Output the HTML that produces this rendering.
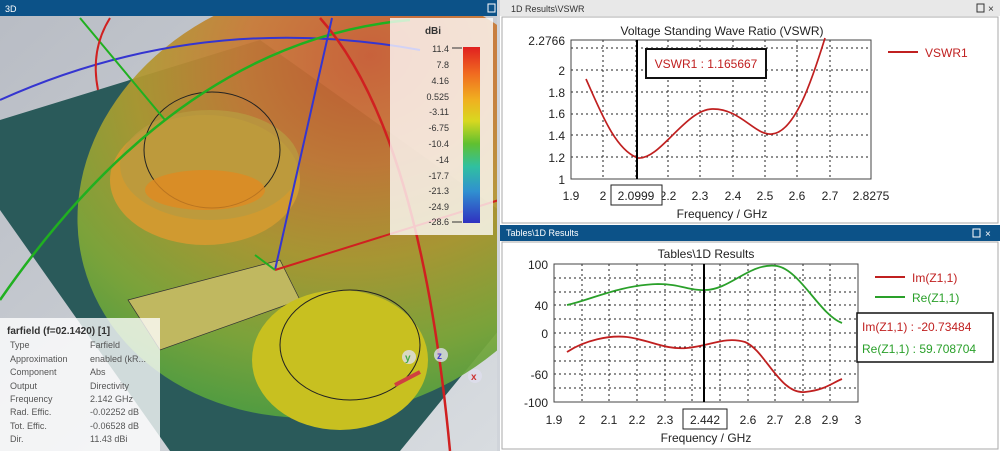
<!DOCTYPE html>
<html><head><meta charset="utf-8"><style>
html,body{margin:0;padding:0;background:#fff;width:1000px;height:451px;overflow:hidden}
svg{display:block;position:absolute;left:0;top:0;font-family:"Liberation Sans","DejaVu Sans",sans-serif}
</style></head><body>
<svg width="1000" height="451" viewBox="0 0 1000 451" xmlns="http://www.w3.org/2000/svg">
<defs>
<linearGradient id="cb" x1="0" y1="0" x2="0" y2="1">
<stop offset="0" stop-color="#e02020"/><stop offset="0.15" stop-color="#f06a20"/><stop offset="0.3" stop-color="#f0b020"/><stop offset="0.42" stop-color="#d8d820"/><stop offset="0.55" stop-color="#60c030"/><stop offset="0.68" stop-color="#30c0a0"/><stop offset="0.82" stop-color="#3090d0"/><stop offset="1" stop-color="#3030c0"/>
</linearGradient>
<radialGradient id="lobe" cx="0.65" cy="0.2" r="0.85">
<stop offset="0" stop-color="#c85a30"/><stop offset="0.3" stop-color="#c87a35"/><stop offset="0.55" stop-color="#b09a30"/><stop offset="0.8" stop-color="#80a838"/><stop offset="1" stop-color="#50a040"/>
</radialGradient>
<linearGradient id="bg" x1="0" y1="0" x2="1" y2="1"><stop offset="0" stop-color="#b8bcc4"/><stop offset="1" stop-color="#d8dce0"/></linearGradient>
</defs>
<rect x="0" y="0" width="499" height="451" fill="url(#bg)"/>
<polygon points="0,120 260,40 499,210 499,330 400,451 170,451 0,210" fill="#2a5a5a"/>
<ellipse cx="330" cy="200" rx="255" ry="215" fill="url(#lobe)" opacity="0.93" transform="rotate(-15 330 200)"/>
<ellipse cx="205" cy="180" rx="95" ry="65" fill="#d09a30"/>
<ellipse cx="210" cy="165" rx="90" ry="55" fill="#b89a40" opacity="0.8"/>
<ellipse cx="212" cy="150" rx="68" ry="58" fill="none" stroke="#222" stroke-width="1"/>
<ellipse cx="205" cy="190" rx="60" ry="20" fill="#e08a20" opacity="0.8"/>
<polygon points="128,300 280,260 300,300 160,350" fill="#c0b860" stroke="#333" stroke-width="0.7"/>
<ellipse cx="340" cy="360" rx="88" ry="70" fill="#c8c020"/>
<ellipse cx="350" cy="345" rx="70" ry="55" fill="none" stroke="#222" stroke-width="1"/>
<path d="M0,100 Q200,10 420,50" fill="none" stroke="#3535d0" stroke-width="2"/>
<path d="M0,300 Q180,40 410,20" fill="none" stroke="#20b020" stroke-width="2.5"/>
<line x1="80" y1="18" x2="165" y2="120" stroke="#20b020" stroke-width="2"/>
<path d="M110,18 Q90,50 98,90" fill="none" stroke="#d02020" stroke-width="2"/>
<path d="M320,18 Q420,130 450,451" fill="none" stroke="#d02020" stroke-width="2.5"/>
<line x1="332" y1="18" x2="275" y2="270" stroke="#3535d0" stroke-width="2"/>
<line x1="275" y1="270" x2="499" y2="200" stroke="#d02020" stroke-width="2"/>
<line x1="275" y1="270" x2="255" y2="255" stroke="#20b020" stroke-width="2"/>
<line x1="395" y1="385" x2="420" y2="372" stroke="#d04040" stroke-width="4"/>
<circle cx="409" cy="357" r="7" fill="#dde" opacity="0.8"/><text x="405" y="361" font-size="10" fill="#4a4" font-weight="bold">y</text>
<circle cx="441" cy="355" r="7" fill="#dde" opacity="0.8"/><text x="437" y="359" font-size="10" fill="#44c" font-weight="bold">z</text>
<circle cx="475" cy="376" r="7" fill="#dde" opacity="0.8"/><text x="471" y="380" font-size="10" fill="#c33" font-weight="bold">x</text>
<rect x="390" y="18" width="103" height="217" fill="#fff" opacity="0.78"/>
<text x="433" y="34" font-size="10" font-weight="bold" fill="#333" text-anchor="middle">dBi</text>
<rect x="463" y="47" width="17" height="176" fill="url(#cb)"/>
<g font-size="9" fill="#333" text-anchor="end">
<text x="449" y="52">11.4</text><text x="449" y="68">7.8</text><text x="449" y="84">4.16</text><text x="449" y="100">0.525</text><text x="449" y="115">-3.11</text><text x="449" y="131">-6.75</text><text x="449" y="147">-10.4</text><text x="449" y="163">-14</text><text x="449" y="179">-17.7</text><text x="449" y="194">-21.3</text><text x="449" y="210">-24.9</text><text x="449" y="225">-28.6</text>
</g>
<g stroke="#333" stroke-width="1"><line x1="452" y1="48" x2="462" y2="48"/><line x1="452" y1="222" x2="462" y2="222"/></g>
<polygon points="0,318 160,318 160,451 0,451" fill="#fff" opacity="0.78"/>
<text x="7" y="334" font-size="10" font-weight="bold" fill="#333">farfield (f=02.1420) [1]</text>
<g font-size="9" fill="#555">
<text x="10" y="348">Type</text><text x="90" y="348">Farfield</text>
<text x="10" y="362">Approximation</text><text x="90" y="362">enabled (kR...</text>
<text x="10" y="375">Component</text><text x="90" y="375">Abs</text>
<text x="10" y="389">Output</text><text x="90" y="389">Directivity</text>
<text x="10" y="402">Frequency</text><text x="90" y="402">2.142 GHz</text>
<text x="10" y="415">Rad. Effic.</text><text x="90" y="415">-0.02252 dB</text>
<text x="10" y="429">Tot. Effic.</text><text x="90" y="429">-0.06528 dB</text>
<text x="10" y="442">Dir.</text><text x="90" y="442">11.43 dBi</text>
</g>
<rect x="0" y="0" width="499" height="16" fill="#0c5288"/>
<text x="5" y="12" font-size="9" fill="#fff">3D</text>
<rect x="488" y="4" width="7" height="8" fill="none" stroke="#fff"/>
<rect x="497" y="0" width="3" height="451" fill="#d0d4da"/>

<rect x="500" y="0" width="500" height="225" fill="#fff"/>
<rect x="500" y="0" width="500" height="16" fill="#e8e8e8"/>
<text x="511" y="12" font-size="9" fill="#333">1D Results\VSWR</text>
<rect x="977" y="4" width="7" height="8" fill="none" stroke="#333"/><text x="988" y="12" font-size="10" fill="#333">×</text>
<rect x="502" y="17" width="496" height="206" fill="none" stroke="#aaa"/>
<text x="722" y="35" font-size="12" fill="#222" text-anchor="middle">Voltage Standing Wave Ratio (VSWR)</text>
<g stroke="#222" stroke-width="1" stroke-dasharray="2,3">
<line x1="603" y1="40" x2="603" y2="179"/><line x1="636" y1="40" x2="636" y2="179"/><line x1="668" y1="40" x2="668" y2="179"/><line x1="700" y1="40" x2="700" y2="179"/><line x1="733" y1="40" x2="733" y2="179"/><line x1="765" y1="40" x2="765" y2="179"/><line x1="797" y1="40" x2="797" y2="179"/><line x1="830" y1="40" x2="830" y2="179"/>
<line x1="571" y1="157" x2="871" y2="157"/><line x1="571" y1="135" x2="871" y2="135"/><line x1="571" y1="114" x2="871" y2="114"/><line x1="571" y1="92" x2="871" y2="92"/><line x1="571" y1="70" x2="871" y2="70"/><line x1="571" y1="48" x2="871" y2="48"/>
</g>
<rect x="571" y="40" width="300" height="139" fill="none" stroke="#444"/>
<path d="M586,79 C600,110 615,150 638,158 C660,160 685,110 712,109 C740,108 755,136 772,134 C795,132 812,80 825,38" fill="none" stroke="#c02020" stroke-width="1.7"/>
<line x1="637" y1="40" x2="637" y2="179" stroke="#000" stroke-width="2"/>
<g font-size="12" fill="#222" text-anchor="end">
<text x="565" y="45">2.2766</text><text x="565" y="75">2</text><text x="565" y="97">1.8</text><text x="565" y="118">1.6</text><text x="565" y="140">1.4</text><text x="565" y="162">1.2</text><text x="565" y="184">1</text>
</g>
<g font-size="12" fill="#222" text-anchor="middle">
<text x="571" y="200">1.9</text><text x="603" y="200">2</text><text x="668" y="200">2.2</text><text x="700" y="200">2.3</text><text x="733" y="200">2.4</text><text x="765" y="200">2.5</text><text x="797" y="200">2.6</text><text x="830" y="200">2.7</text><text x="871" y="200">2.8275</text>
</g>
<rect x="611" y="185" width="51" height="20" fill="#fff" stroke="#222"/>
<text x="636" y="200" font-size="12" fill="#222" text-anchor="middle">2.0999</text>
<text x="722" y="218" font-size="12" fill="#222" text-anchor="middle">Frequency / GHz</text>
<rect x="646" y="49" width="120" height="29" fill="#fff" stroke="#111" stroke-width="2"/>
<text x="706" y="68" font-size="12" fill="#c02020" text-anchor="middle">VSWR1 : 1.165667</text>
<line x1="888" y1="52" x2="918" y2="52" stroke="#c02020" stroke-width="2"/>
<text x="925" y="57" font-size="12" fill="#c02020">VSWR1</text>

<rect x="500" y="225" width="500" height="226" fill="#fff"/>
<rect x="500" y="225" width="500" height="16" fill="#0c5288"/>
<text x="506" y="236" font-size="9" fill="#fff">Tables\1D Results</text>
<rect x="973" y="229" width="7" height="8" fill="none" stroke="#fff"/><text x="985" y="237" font-size="10" fill="#fff">×</text>
<rect x="502" y="242" width="496" height="207" fill="none" stroke="#aaa"/>
<text x="706" y="258" font-size="12" fill="#222" text-anchor="middle">Tables\1D Results</text>
<g stroke="#222" stroke-width="1" stroke-dasharray="2,3">
<line x1="582" y1="264" x2="582" y2="402"/><line x1="609" y1="264" x2="609" y2="402"/><line x1="637" y1="264" x2="637" y2="402"/><line x1="665" y1="264" x2="665" y2="402"/><line x1="692" y1="264" x2="692" y2="402"/><line x1="720" y1="264" x2="720" y2="402"/><line x1="748" y1="264" x2="748" y2="402"/><line x1="775" y1="264" x2="775" y2="402"/><line x1="803" y1="264" x2="803" y2="402"/><line x1="830" y1="264" x2="830" y2="402"/>
<line x1="554" y1="278" x2="858" y2="278"/><line x1="554" y1="292" x2="858" y2="292"/><line x1="554" y1="305" x2="858" y2="305"/><line x1="554" y1="319" x2="858" y2="319"/><line x1="554" y1="333" x2="858" y2="333"/><line x1="554" y1="347" x2="858" y2="347"/><line x1="554" y1="361" x2="858" y2="361"/><line x1="554" y1="374" x2="858" y2="374"/><line x1="554" y1="388" x2="858" y2="388"/>
</g>
<rect x="554" y="264" width="304" height="138" fill="none" stroke="#444"/>
<path d="M567,305 C590,300 620,285 658,284 C680,284 690,291 705,290 C730,290 750,262 777,266 C800,270 820,315 842,323" fill="none" stroke="#2aa02a" stroke-width="1.8"/>
<path d="M567,352 C585,340 610,335 627,337 C650,340 665,350 687,348 C710,346 725,336 745,342 C765,350 780,395 805,392 C825,390 832,383 842,379" fill="none" stroke="#c02020" stroke-width="1.8"/>
<line x1="704" y1="264" x2="704" y2="402" stroke="#000" stroke-width="2"/>
<g font-size="12" fill="#222" text-anchor="end">
<text x="548" y="269">100</text><text x="548" y="310">40</text><text x="548" y="338">0</text><text x="548" y="379">-60</text><text x="548" y="407">-100</text>
</g>
<g font-size="12" fill="#222" text-anchor="middle">
<text x="554" y="424">1.9</text><text x="582" y="424">2</text><text x="609" y="424">2.1</text><text x="637" y="424">2.2</text><text x="665" y="424">2.3</text><text x="748" y="424">2.6</text><text x="775" y="424">2.7</text><text x="803" y="424">2.8</text><text x="830" y="424">2.9</text><text x="858" y="424">3</text>
</g>
<rect x="683" y="409" width="44" height="20" fill="#fff" stroke="#222"/>
<text x="705" y="424" font-size="12" fill="#222" text-anchor="middle">2.442</text>
<text x="706" y="442" font-size="12" fill="#222" text-anchor="middle">Frequency / GHz</text>
<line x1="875" y1="277" x2="905" y2="277" stroke="#c02020" stroke-width="2"/>
<text x="912" y="282" font-size="12" fill="#c02020">Im(Z1,1)</text>
<line x1="875" y1="297" x2="905" y2="297" stroke="#2aa02a" stroke-width="2"/>
<text x="912" y="302" font-size="12" fill="#2aa02a">Re(Z1,1)</text>
<rect x="857" y="313" width="136" height="49" fill="#fff" stroke="#111" stroke-width="1.5"/>
<text x="862" y="331" font-size="12" fill="#c02020">Im(Z1,1) : -20.73484</text>
<text x="862" y="353" font-size="12" fill="#2aa02a">Re(Z1,1) : 59.708704</text>
</svg>
</body></html>
